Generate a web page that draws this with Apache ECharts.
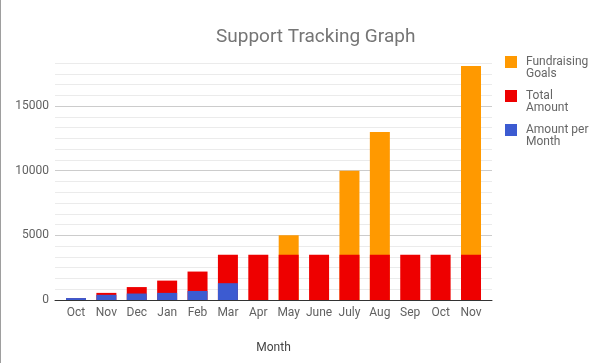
<!DOCTYPE html>
<html>
<head>
<meta charset="utf-8">
<script src="https://cdn.jsdelivr.net/npm/echarts@6/dist/echarts.min.js"></script>
<style>
  html, body { margin: 0; padding: 0; background: #fff; }
  #chart { position: absolute; left: 0; top: 0; width: 597px; height: 363px; }
  #edge { position: absolute; left: 0; top: 0; width: 1px; height: 363px; background: #9e9e9e; z-index: 5; }
</style>
</head>
<body>
<div id="chart"></div>
<div id="edge"></div>
<script>
const months = ['Oct', 'Nov', 'Dec', 'Jan', 'Feb', 'Mar', 'Apr', 'May', 'June', 'July', 'Aug', 'Sep', 'Oct', 'Nov'];
const fundraisingGoals = [null, null, null, null, null, null, null, 5000, null, 10000, 13000, null, null, 18100];
const totalAmount = [150, 550, 1000, 1500, 2200, 3500, 3500, 3500, 3500, 3500, 3500, 3500, 3500, 3500];
const amountPerMonth = [150, 400, 500, 550, 700, 1300, null, null, null, null, null, null, null, null];
const seriesNames = ['Fundraising Goals', 'Total Amount', 'Amount per Month'];
const legendLabels = {
  'Fundraising Goals': 'Fundraising\nGoals',
  'Total Amount': 'Total\nAmount',
  'Amount per Month': 'Amount per\nMonth'
};
const yStep = 5000 / 6;
const yMax = yStep * 22;

const chart = echarts.init(document.getElementById('chart'), null, { renderer: 'canvas' });
const font = 'Roboto';
const option = {
  animation: false,
  textStyle: { fontFamily: font },
  title: {
    text: 'Support Tracking Graph',
    left: 211,
    top: 23,
    textStyle: { fontFamily: font, fontSize: 19, fontWeight: 'normal', color: '#757575' }
  },
  legend: {
    orient: 'vertical',
    left: 505,
    top: 44,
    padding: 0,
    itemWidth: 12,
    itemHeight: 12,
    itemGap: -2,
    icon: 'rect',
    data: seriesNames,
    formatter: name => '\u00a0\n' + legendLabels[name],
    textStyle: { fontFamily: font, fontSize: 12, lineHeight: 12, color: '#666', padding: [0, 0, 0, 4] }
  },
  grid: [
    { left: 55, right: 105, top: 63, bottom: 63 },
    { left: 60.8, right: 110.8, top: 63, bottom: 63 }
  ],
  xAxis: [
    {
      type: 'category', gridIndex: 0, data: [''],
      axisLine: { show: true, lineStyle: { color: '#333', width: 1 } },
      axisTick: { show: false }, axisLabel: { show: false }, splitLine: { show: false }
    },
    {
      type: 'category', gridIndex: 1, data: months,
      axisLine: { show: false }, axisTick: { show: false },
      axisLabel: { interval: 0, margin: 7, fontFamily: font, fontSize: 12, color: '#616161' },
      name: 'Month', nameLocation: 'middle', nameGap: 42,
      nameTextStyle: { fontFamily: font, fontSize: 12, color: '#444' }
    }
  ],
  yAxis: [
    {
      type: 'value', gridIndex: 0, min: 0, max: yMax, interval: yStep,
      axisLine: { show: false }, axisTick: { show: false },
      axisLabel: {
        margin: 6, fontFamily: font, fontSize: 12, color: '#616161',
        formatter: v => {
          const r = Math.round(v);
          return (Math.abs(v - r) < 0.01 && r % 5000 === 0) ? String(r) : '';
        }
      },
      splitLine: { show: true, lineStyle: { color: ['#cccccc', '#ebebeb', '#ebebeb', '#ebebeb', '#ebebeb', '#ebebeb'], width: 1 } }
    },
    {
      type: 'value', gridIndex: 1, min: 0, max: yMax, interval: yStep,
      show: false, splitLine: { show: false }
    }
  ],
  series: [
    { name: seriesNames[0], type: 'bar', xAxisIndex: 1, yAxisIndex: 1, data: fundraisingGoals, barWidth: 20, barGap: '-100%', itemStyle: { color: '#ff9900' } },
    { name: seriesNames[1], type: 'bar', xAxisIndex: 1, yAxisIndex: 1, data: totalAmount, barWidth: 20, barGap: '-100%', itemStyle: { color: '#ee0000' } },
    { name: seriesNames[2], type: 'bar', xAxisIndex: 1, yAxisIndex: 1, data: amountPerMonth, barWidth: 20, barGap: '-100%', itemStyle: { color: '#3c5bd1' } }
  ]
};
chart.setOption(option);
</script>
</body>
</html>
